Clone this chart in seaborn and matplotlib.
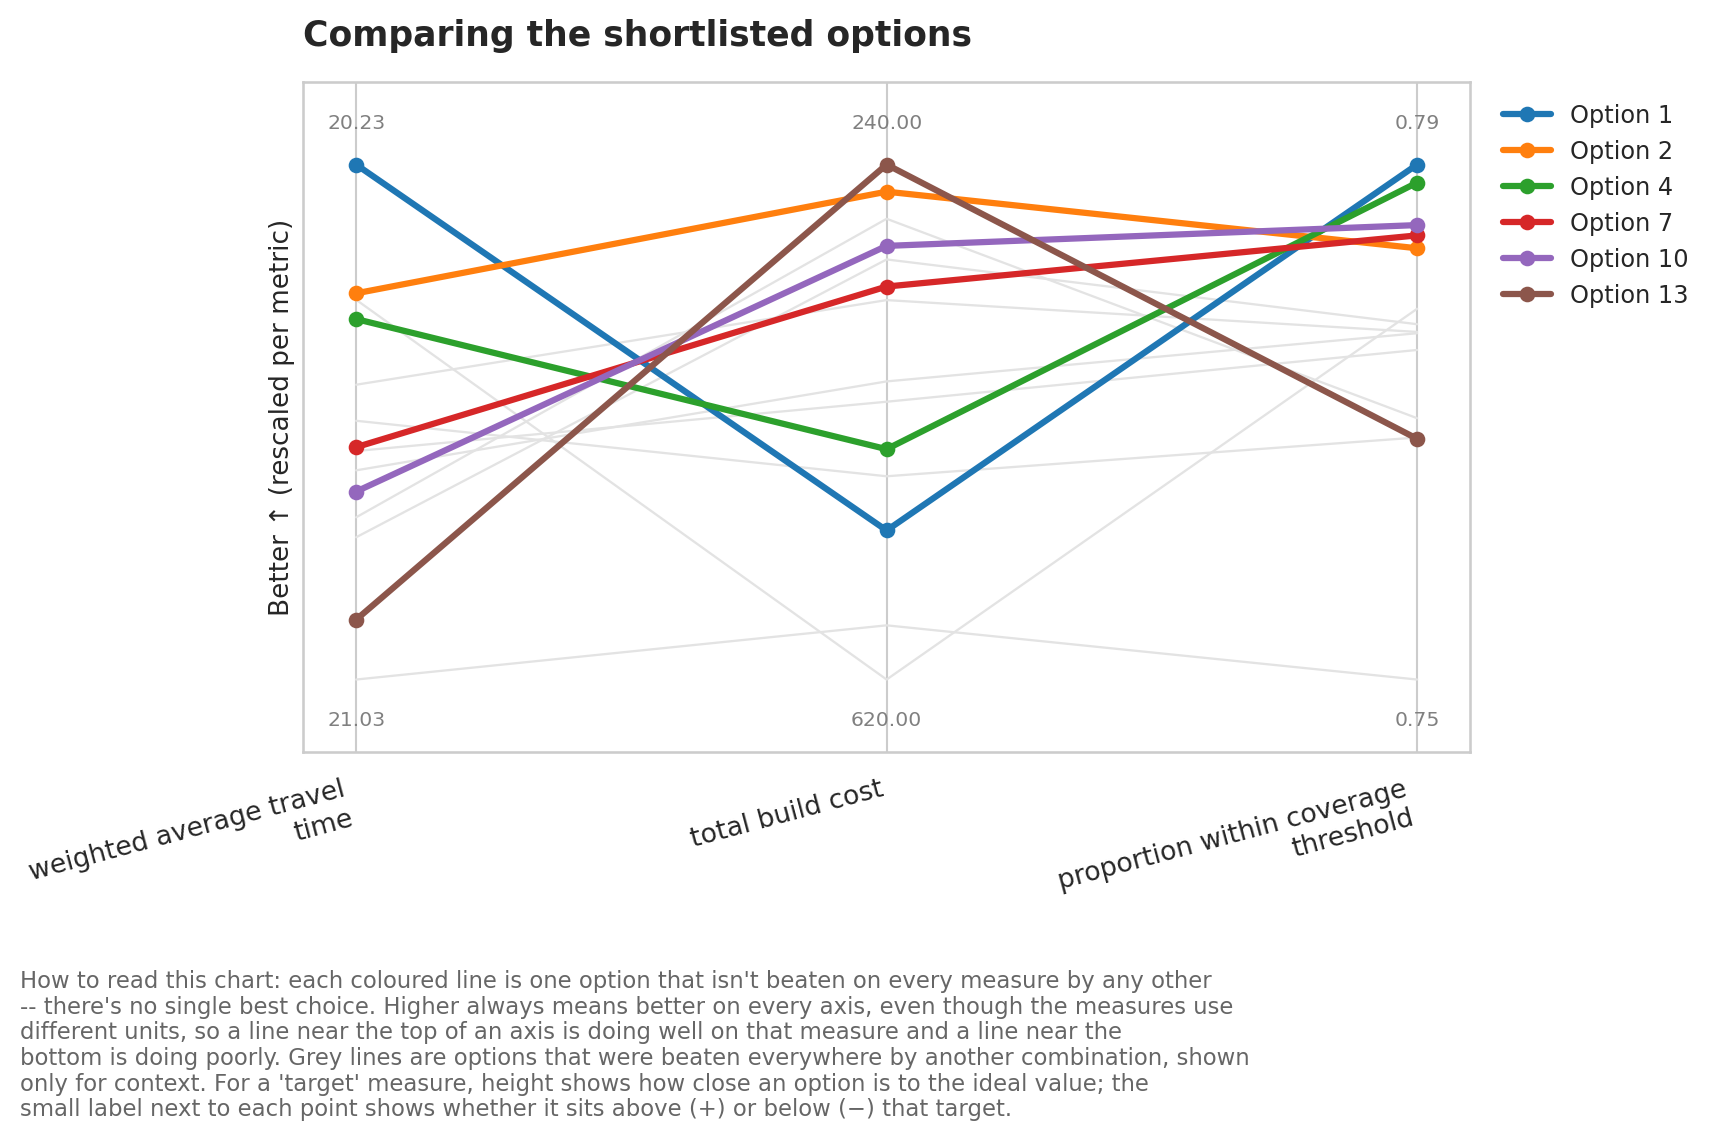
import numpy as np
import pandas as pd
import seaborn as sns
import matplotlib.pyplot as plt
from matplotlib.lines import Line2D

# metrics (axes of the parallel-coordinates chart)
metric_labels = ['weighted average travel\ntime', 'total build cost',
                 'proportion within coverage\nthreshold']
lower_is_better = [True, True, False]

# non-dominated options (coloured)
front_options = ['Option 1', 'Option 2', 'Option 4', 'Option 7', 'Option 10', 'Option 13']
front_travel = [20.23, 20.43, 20.47, 20.669, 20.738, 20.937]
front_cost = [510, 260, 450, 330, 300, 240]
front_coverage = [0.790, 0.7835, 0.7886, 0.7845, 0.7853, 0.7687]

# dominated options (grey, context only)
other_options = ['Option 3', 'Option 5', 'Option 6', 'Option 8',
                 'Option 9', 'Option 11', 'Option 12', 'Option 14']
other_travel = [20.44, 20.572, 20.628, 20.675, 20.705, 20.778, 20.809, 21.03]
other_cost = [620, 340, 470, 415, 400, 280, 310, 580]
other_coverage = [0.7788, 0.7770, 0.7688, 0.7756, 0.7769, 0.7703, 0.7776, 0.750]

colors = ['#1f77b4', '#ff7f0e', '#2ca02c', '#d62728', '#9467bd', '#8c564b']

caption = (
    "How to read this chart: each coloured line is one option that isn't beaten on every measure by any other\n"
    "-- there's no single best choice. Higher always means better on every axis, even though the measures use\n"
    "different units, so a line near the top of an axis is doing well on that measure and a line near the\n"
    "bottom is doing poorly. Grey lines are options that were beaten everywhere by another combination, shown\n"
    "only for context. For a 'target' measure, height shows how close an option is to the ideal value; the\n"
    "small label next to each point shows whether it sits above (+) or below (\u2212) that target."
)

# rescale every metric to 0..1 where 1 = best
all_cols = [front_travel + other_travel, front_cost + other_cost, front_coverage + other_coverage]
lo = [min(c) for c in all_cols]
hi = [max(c) for c in all_cols]


def rescale(v, i):
    s = (v - lo[i]) / (hi[i] - lo[i])
    return 1 - s if lower_is_better[i] else s


def to_long(options, cols):
    rows = []
    for k, name in enumerate(options):
        for i, col in enumerate(cols):
            rows.append({'option': name, 'axis': i, 'score': rescale(col[k], i)})
    return pd.DataFrame(rows)


front_df = to_long(front_options, [front_travel, front_cost, front_coverage])
other_df = to_long(other_options, [other_travel, other_cost, other_coverage])

sns.set_theme(style='whitegrid')
fig = plt.figure(figsize=(11.454, 7.62), dpi=150)
ax = fig.add_axes([0.1764, 0.3424, 0.6793, 0.5857])

sns.lineplot(data=other_df, x='axis', y='score', units='option', estimator=None,
             color='#e3e3e3', lw=1.1, sort=False, legend=False, ax=ax)
sns.lineplot(data=front_df, x='axis', y='score', hue='option', hue_order=front_options,
             palette=colors, estimator=None, sort=False, lw=3.0, marker='o',
             markersize=7.5, markeredgewidth=0, legend=False, ax=ax)

# best / worst value labels on each axis
for i in range(3):
    best = lo[i] if lower_is_better[i] else hi[i]
    worst = hi[i] if lower_is_better[i] else lo[i]
    ax.text(i, 1.08, f'{best:.2f}', ha='center', va='center', fontsize=9.8, color='#808080')
    ax.text(i, -0.08, f'{worst:.2f}', ha='center', va='center', fontsize=9.8, color='#808080')

ax.set_xlim(-0.1, 2.1)
ax.set_ylim(-0.14, 1.16)
ax.set_yticks([])
ax.set_xticks(range(3))
ax.set_xticklabels(metric_labels, rotation=15, ha='right', fontsize=12.8)
ax.tick_params(axis='x', pad=6)
ax.set_xlabel('')
ax.set_ylabel('Better \u2191 (rescaled per metric)', fontsize=12.6)
ax.set_title('Comparing the shortlisted options', loc='left', fontsize=16.6,
             fontweight='bold', pad=17.5)

handles = [Line2D([], [], color=c, lw=3.0, marker='o', markersize=7.5, markeredgewidth=0)
           for c in colors]
ax.legend(handles, front_options, loc='upper left', bbox_to_anchor=(1.01, 1.0),
          frameon=False, fontsize=11.5)

fig.text(0.0116, 0.1514, caption, ha='left', va='top', fontsize=10.9,
         color='#666666', linespacing=1.15)

fig.savefig('out.png', dpi=150)
